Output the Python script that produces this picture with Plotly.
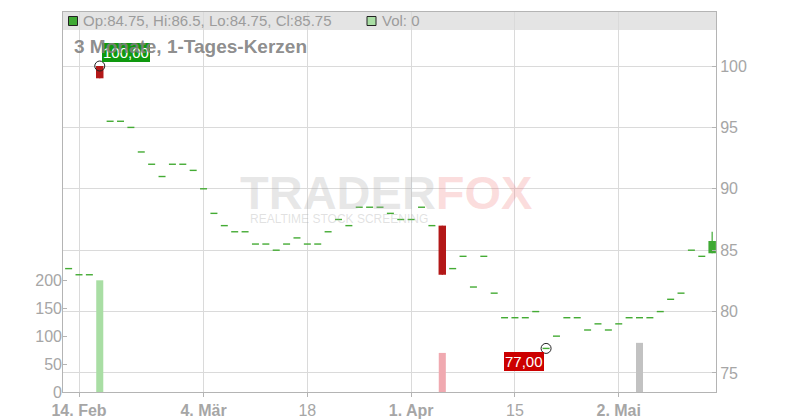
import plotly.graph_objects as go

# ---------------- data ----------------
dates = ["2025-02-13", "2025-02-14", "2025-02-17", "2025-02-18", "2025-02-19", "2025-02-20",
         "2025-02-21", "2025-02-24", "2025-02-25", "2025-02-26", "2025-02-27", "2025-02-28",
         "2025-03-03", "2025-03-04", "2025-03-05", "2025-03-06", "2025-03-07", "2025-03-10",
         "2025-03-11", "2025-03-12", "2025-03-13", "2025-03-14", "2025-03-17", "2025-03-18",
         "2025-03-19", "2025-03-20", "2025-03-21", "2025-03-24", "2025-03-25", "2025-03-26",
         "2025-03-27", "2025-03-28", "2025-03-31", "2025-04-01", "2025-04-02", "2025-04-03",
         "2025-04-04", "2025-04-07", "2025-04-08", "2025-04-09", "2025-04-10", "2025-04-11",
         "2025-04-14", "2025-04-15", "2025-04-16", "2025-04-17", "2025-04-22", "2025-04-23",
         "2025-04-24", "2025-04-25", "2025-04-28", "2025-04-29", "2025-04-30", "2025-05-02",
         "2025-05-05", "2025-05-06", "2025-05-07", "2025-05-08", "2025-05-09", "2025-05-12",
         "2025-05-13", "2025-05-14", "2025-05-15"]

opens = [83.5, 83.0, 83.0, 100.0, 95.5, 95.5, 95.0, 93.0, 92.0, 91.0, 92.0, 92.0,
         91.5, 90.0, 88.0, 87.0, 86.5, 86.5, 85.5, 85.5, 85.0, 85.5, 86.0, 85.5,
         85.5, 86.5, 87.5, 87.0, 88.5, 88.5, 88.5, 88.0, 87.5, 87.5, 88.5, 87.0,
         87.0, 83.5, 84.5, 82.0, 84.5, 81.5, 79.5, 79.5, 79.5, 80.0, 77.0, 78.0,
         79.5, 79.5, 78.5, 79.0, 78.5, 79.0, 79.5, 79.5, 79.5, 80.0, 81.0, 81.5,
         85.0, 84.5, 84.75]
highs = [83.5, 83.0, 83.0, 100.0, 95.5, 95.5, 95.0, 93.0, 92.0, 91.0, 92.0, 92.0,
         91.5, 90.0, 88.0, 87.0, 86.5, 86.5, 85.5, 85.5, 85.0, 85.5, 86.0, 85.5,
         85.5, 86.5, 87.5, 87.0, 88.5, 88.5, 88.5, 88.0, 87.5, 87.5, 88.5, 87.0,
         87.0, 83.5, 84.5, 82.0, 84.5, 81.5, 79.5, 79.5, 79.5, 80.0, 77.0, 78.0,
         79.5, 79.5, 78.5, 79.0, 78.5, 79.0, 79.5, 79.5, 79.5, 80.0, 81.0, 81.5,
         85.0, 84.5, 86.5]
lows = [83.5, 83.0, 83.0, 99.0, 95.5, 95.5, 95.0, 93.0, 92.0, 91.0, 92.0, 92.0,
        91.5, 90.0, 88.0, 87.0, 86.5, 86.5, 85.5, 85.5, 85.0, 85.5, 86.0, 85.5,
        85.5, 86.5, 87.5, 87.0, 88.5, 88.5, 88.5, 88.0, 87.5, 87.5, 88.5, 87.0,
        83.0, 83.5, 84.5, 82.0, 84.5, 81.5, 79.5, 79.5, 79.5, 80.0, 77.0, 78.0,
        79.5, 79.5, 78.5, 79.0, 78.5, 79.0, 79.5, 79.5, 79.5, 80.0, 81.0, 81.5,
        85.0, 84.5, 84.75]
closes = [83.5, 83.0, 83.0, 99.0, 95.5, 95.5, 95.0, 93.0, 92.0, 91.0, 92.0, 92.0,
          91.5, 90.0, 88.0, 87.0, 86.5, 86.5, 85.5, 85.5, 85.0, 85.5, 86.0, 85.5,
          85.5, 86.5, 87.5, 87.0, 88.5, 88.5, 88.5, 88.0, 87.5, 87.5, 88.5, 87.0,
          83.0, 83.5, 84.5, 82.0, 84.5, 81.5, 79.5, 79.5, 79.5, 80.0, 77.0, 78.0,
          79.5, 79.5, 78.5, 79.0, 78.5, 79.0, 79.5, 79.5, 79.5, 80.0, 81.0, 81.5,
          85.0, 84.5, 85.75]
volumes = [0, 0, 0, 200, 0, 0, 0, 0, 0, 0, 0, 0,
           0, 0, 0, 0, 0, 0, 0, 0, 0, 0, 0, 0,
           0, 0, 0, 0, 0, 0, 0, 0, 0, 0, 0, 0,
           70, 0, 0, 0, 0, 0, 0, 0, 0, 0, 0, 0,
           0, 0, 0, 0, 0, 0, 0, 88, 0, 0, 0, 0,
           0, 0, 0]

tick_dates = ["2025-02-14", "2025-03-04", "2025-03-18", "2025-04-01", "2025-04-15", "2025-05-02"]
tick_labels = ["<b>14. Feb</b>", "<b>4. Mär</b>", "18", "<b>1. Apr</b>", "15", "<b>2. Mai</b>"]
price_ticks = [75, 80, 85, 90, 95, 100]
volume_ticks = [0, 50, 100, 150, 200]

title_text = "3 Monate, 1-Tages-Kerzen"

# ---------------- styling ----------------
FONT = "Liberation Sans, Arial, sans-serif"
GREEN = "#3fa934"
RED = "#b31818"
DASH = "#44ab34"
GRID = "#dadada"
AXIS = "#b4b4b4"
TXT = "#a3a3a3"

fig = go.Figure()

# volume bars (color by change vs previous close)
vcol = []
for i, c in enumerate(closes):
    prev = closes[i - 1] if i > 0 else c
    vcol.append("#a9dea4" if c > prev else ("#f0a9b0" if c < prev else "#c2c2c2"))
fig.add_trace(go.Bar(x=dates, y=volumes, marker=dict(color=vcol, line=dict(width=0)),
                     width=0.68, yaxis="y", hoverinfo="skip", showlegend=False))

# candles with real bodies
for up, col in ((True, GREEN), (False, RED)):
    idx = [i for i in range(len(dates)) if opens[i] != closes[i] and ((closes[i] > opens[i]) == up)]
    wx, wy = [], []
    for i in idx:
        wx += [dates[i], dates[i], None]
        wy += [lows[i], highs[i], None]
    fig.add_trace(go.Scatter(x=wx, y=wy, mode="lines", line=dict(color=col, width=1.2),
                             yaxis="y2", hoverinfo="skip", showlegend=False))
    fig.add_trace(go.Bar(x=[dates[i] for i in idx],
                         y=[abs(closes[i] - opens[i]) for i in idx],
                         base=[min(opens[i], closes[i]) for i in idx],
                         width=0.72, marker=dict(color=col, line=dict(width=0)),
                         yaxis="y2", hoverinfo="skip", showlegend=False))

# flat days (open == close) drawn as short dashes
fi = [i for i in range(len(dates)) if opens[i] == closes[i]]
fig.add_trace(go.Scatter(x=[dates[i] for i in fi], y=[closes[i] for i in fi], mode="markers",
                         marker=dict(symbol="line-ew", size=5, line=dict(color=DASH, width=1.4)),
                         yaxis="y2", hoverinfo="skip", showlegend=False))

# extreme markers
imax = max(range(len(dates)), key=lambda i: highs[i])
imin = min(range(len(dates)), key=lambda i: lows[i])
fig.add_trace(go.Scatter(x=[dates[imax], dates[imin]], y=[highs[imax], lows[imin]], mode="markers",
                         marker=dict(symbol="circle-open", size=10, color="#222222",
                                     line=dict(width=1, color="#222222")),
                         yaxis="y2", hoverinfo="skip", showlegend=False))

def de(v):
    return f"{v:.2f}".replace(".", ",")

annotations = [
    dict(x=dates[imax], y=highs[imax], xref="x", yref="y2", text=de(highs[imax]),
         xanchor="left", yanchor="bottom", xshift=2, yshift=4, showarrow=False,
         bgcolor="#0f990f", borderpad=1, borderwidth=0,
         font=dict(family=FONT, size=15, color="white")),
    dict(x=dates[imin], y=lows[imin], xref="x", yref="y2", text=de(lows[imin]),
         xanchor="right", yanchor="top", xshift=-2, yshift=-4, showarrow=False,
         bgcolor="#cc0000", borderpad=1, borderwidth=0,
         font=dict(family=FONT, size=15, color="white")),
    # title
    dict(x=(72 - 63) / 653, y=(392 - 47) / 380, xref="paper", yref="paper", text=f"<b>{title_text}</b>",
         xanchor="left", yanchor="middle", showarrow=False,
         font=dict(family=FONT, size=19, color="rgba(128,128,128,0.9)")),
    # header texts
    dict(x=(81 - 63) / 653, y=(392 - 21) / 380, xref="paper", yref="paper",
         text=f"Op:{opens[-1]:g}, Hi:{highs[-1]:g}, Lo:{lows[-1]:g}, Cl:{closes[-1]:g}",
         xanchor="left", yanchor="middle", showarrow=False,
         font=dict(family=FONT, size=15, color="#9c9c9c")),
    dict(x=(380 - 63) / 653, y=(392 - 21) / 380, xref="paper", yref="paper",
         text=f"Vol: {volumes[-1]}", xanchor="left", yanchor="middle", showarrow=False,
         font=dict(family=FONT, size=15, color="#9c9c9c")),
    # watermark
    dict(x=(386 - 63) / 653, y=(392 - 192) / 380, xref="paper", yref="paper",
         text="<b><span style='color:rgba(170,170,170,0.28)'>TRADER</span>"
              "<span style='color:rgba(240,120,120,0.25)'>FOX</span></b>",
         xanchor="center", yanchor="middle", showarrow=False,
         font=dict(family=FONT, size=47)),
    dict(x=(339 - 63) / 653, y=(392 - 219) / 380, xref="paper", yref="paper",
         text="REALTIME STOCK SCREENING",
         xanchor="center", yanchor="middle", showarrow=False,
         font=dict(family=FONT, size=12, color="rgba(170,170,170,0.35)")),
]

shapes = [
    dict(type="rect", xref="paper", yref="paper", x0=0, x1=1, y0=(392 - 30) / 380, y1=1,
         fillcolor="#e4e4e4", line=dict(width=0), layer="below"),
    dict(type="rect", xref="paper", yref="paper", x0=(68.5 - 63) / 653, x1=(77.5 - 63) / 653,
         y0=(392 - 25.5) / 380, y1=(392 - 16.5) / 380,
         fillcolor=GREEN, line=dict(width=1, color="#222222")),
    dict(type="rect", xref="paper", yref="paper", x0=(367 - 63) / 653, x1=(376 - 63) / 653,
         y0=(392 - 25.5) / 380, y1=(392 - 16.5) / 380,
         fillcolor="#a9dea4", line=dict(width=1, color="#222222")),
]

fig.update_layout(
    width=800, height=420,
    margin=dict(l=63, r=84, t=12, b=28, pad=0, autoexpand=False),
    paper_bgcolor="white", plot_bgcolor="white",
    barmode="overlay", showlegend=False,
    font=dict(family=FONT, color=TXT),
    xaxis=dict(type="category", categoryorder="array", categoryarray=dates, automargin=False,
               range=[-0.541, 62.37], tickmode="array", tickvals=tick_dates, ticktext=tick_labels,
               showgrid=True, gridcolor=GRID, gridwidth=1,
               ticks="outside", ticklen=4, tickcolor=AXIS,
               showline=True, linecolor=AXIS, linewidth=1, mirror=True,
               tickfont=dict(family=FONT, size=16, color="#a6a6a6"), fixedrange=True),
    yaxis=dict(range=[0, 680.4], tickmode="array", tickvals=volume_ticks, side="left",
               automargin=False,
               showgrid=False, zeroline=False, showline=False,
               ticks="inside", ticklen=4, tickcolor=AXIS,
               tickfont=dict(family=FONT, size=16, color="#a6a6a6")),
    yaxis2=dict(range=[73.45, 104.40], tickmode="array", tickvals=price_ticks, side="right",
                overlaying="y", automargin=False,
                showgrid=True, gridcolor=GRID, zeroline=False,
                showline=True, linecolor=AXIS, linewidth=1, mirror=True,
                ticks="inside", ticklen=4, tickcolor=AXIS,
                tickfont=dict(family=FONT, size=16, color="#a6a6a6")),
    annotations=annotations,
    shapes=shapes,
)

fig.write_html("out.html", config={"displayModeBar": False},
               post_script="document.body.style.margin='0';document.body.style.overflow='hidden';")
